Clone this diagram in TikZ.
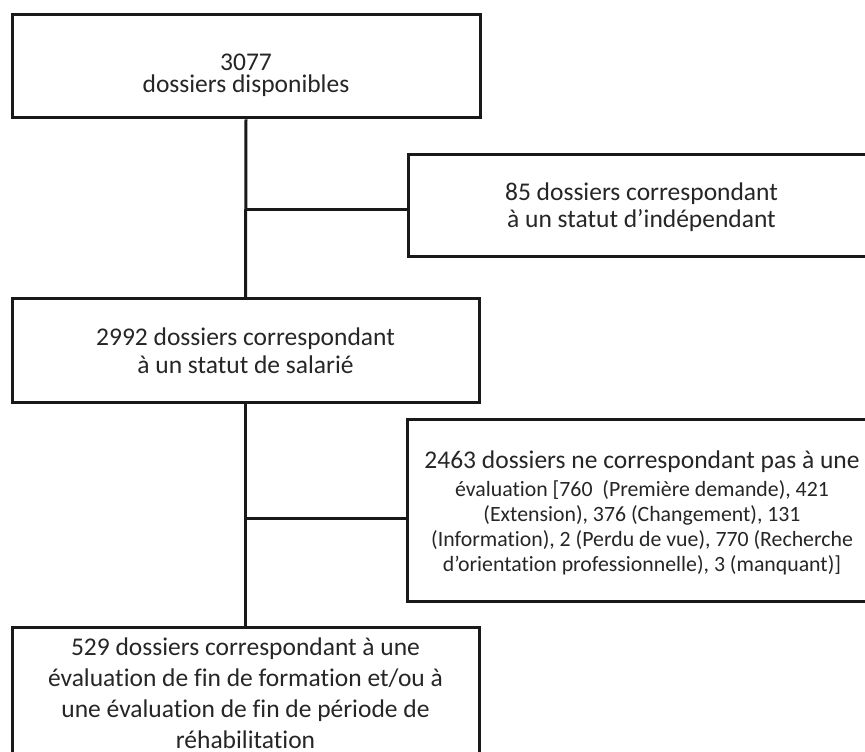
\documentclass[tikz,border=0pt]{standalone}
\usepackage{fontspec}
\setmainfont{Carlito}[RawFeature=-liga]
\begin{document}
\begin{tikzpicture}[x=1pt,y=1pt,
  box/.style={draw=black!90, line width=3pt, rectangle, align=center, text=black!85, inner sep=0pt},
  conn/.style={draw=black!90, line width=3pt}]
\useasboundingbox (0,0) rectangle (865,752);
\clip (0,0) rectangle (865,752);
\fill[white] (0,0) rectangle (865,752);
\node[box, minimum width=468, minimum height=103, font={\fontsize{25.5}{22}\selectfont}]
  (b1) at (246,685.5) {\rule{0pt}{33.5pt}3077\\dossiers disponibles};
\node[box, minimum width=467, minimum height=102, font={\fontsize{25.5}{26.5}\selectfont}]
  (b2) at (641.5,546) {\rule{0pt}{20.4pt}85 dossiers correspondant\\à un statut d’indépendant};
\node[box, minimum width=467, minimum height=104, font={\fontsize{25.5}{28}\selectfont}]
  (b3) at (245.5,401) {2992 dossiers correspondant\\à un statut de salarié};
\node[box, minimum width=470, minimum height=182, font={\fontsize{21.8}{25.2}\selectfont}]
  (b4) at (642,241) {\rule{0pt}{24.8pt}{\fontsize{25.5}{25.2}\selectfont 2463 dossiers ne correspondant pas à une}\\[2pt]évaluation [760\ \ (Première demande), 421\\(Extension), 376 (Changement), 131\\(Information), 2 (Perdu de vue), 770 (Recherche\\\rule[-6pt]{0pt}{6pt}d’orientation professionnelle), 3 (manquant)]};
\node[box, minimum width=467, minimum height=142, font={\fontsize{25.5}{31}\selectfont}]
  (b5) at (245.5,53) {529 dossiers correspondant à une\\évaluation de fin de formation et/ou à\\une évaluation de fin de période de\\\rule[-11.4pt]{0pt}{11.4pt}réhabilitation};
\coordinate (j1) at (246,542);
\coordinate (j2) at (246,233);
\draw[conn] (b1.south) -- (b3.north);
\draw[conn] (b3.south) -- (b5.north);
\draw[conn] (j1) -- (j1 -| b2.west);
\draw[conn] (j2) -- (j2 -| b4.west);
\end{tikzpicture}
\end{document}
